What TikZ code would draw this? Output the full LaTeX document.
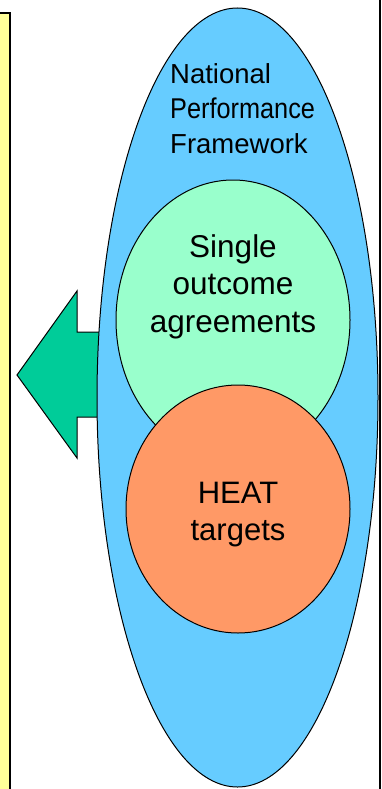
\documentclass[tikz,border=0pt]{standalone}
\usepackage{fontspec}
\setmainfont{Liberation Sans}
\usetikzlibrary{shapes.geometric}
\definecolor{paleyellow}{HTML}{FFFF99}
\definecolor{skyblue}{HTML}{66CCFF}
\definecolor{mintgreen}{HTML}{99FFCC}
\definecolor{salmon}{HTML}{FF9966}
\definecolor{arrowgreen}{HTML}{00CC99}
\tikzset{
  outline/.style={draw=black, line width=1pt},
  oval/.style={outline, ellipse, inner sep=0pt},
  label text/.style={inner sep=0pt, text=black},
}
\begin{document}
\begin{tikzpicture}[x=1pt, y=-1pt]
  \useasboundingbox (0,0) rectangle (382,789);
  \clip (0,0) rectangle (382,789);
  \fill[white] (0,0) rectangle (382,789);

  % side panels
  \draw[fill=paleyellow, line width=1.5pt] (-5,13) rectangle (10,800);
  \draw[fill=white, line width=1.5pt] (380,-5) rectangle (400,800);

  % left-pointing block arrow
  \draw[outline, fill=arrowgreen, line join=miter]
    (110,332) -- (77,332) -- (77,291) -- (17,375) -- (77,458)
    -- (77,417) -- (110,417) -- cycle;

  % nested framework ovals
  \node[oval, fill=skyblue, minimum width=281pt, minimum height=779pt]
    (npf) at (237.5,397.5) {};
  \node[oval, fill=mintgreen, minimum width=234pt, minimum height=280pt]
    (soa) at (233,320) {};
  \node[oval, fill=salmon, minimum width=224pt, minimum height=248pt]
    (heat) at (238,509) {};

  % labels
  \node[label text, anchor=north west, align=left,
        font=\fontsize{27.5}{35}\selectfont] (npflabel) at (170,63)
    {National\\\scalebox{0.92}[1.04]{Performance}\\Framework};
  \node[label text, anchor=north, align=center,
        font=\fontsize{31.5}{37.5}\selectfont] (soalabel) at (233,234)
    {Single\\outcome\\agreements};
  \node[label text, anchor=north, align=center,
        font=\fontsize{31}{37}\selectfont] (heatlabel) at (238,482)
    {HEAT\\targets};
\end{tikzpicture}
\end{document}
